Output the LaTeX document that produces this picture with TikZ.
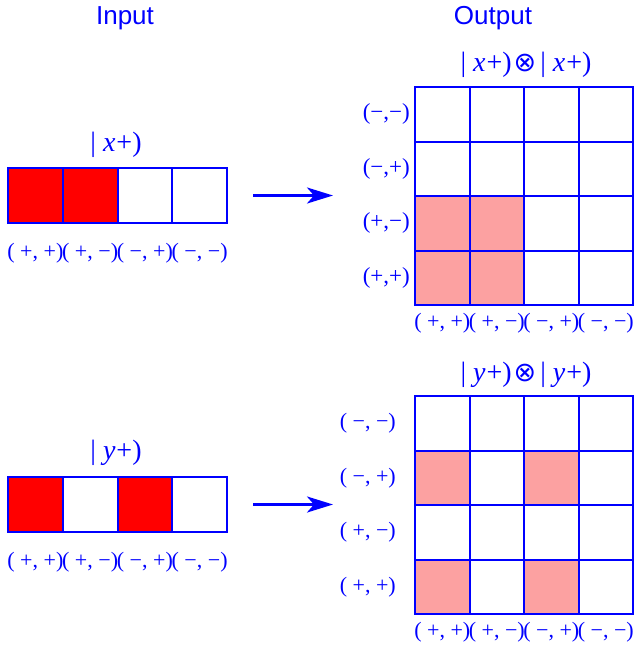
\documentclass[tikz,border=0pt]{standalone}
\usepackage{fontspec}
\setmainfont{Liberation Serif}
\newfontfamily\headfont{Liberation Sans}
\newfontfamily\symfont{DejaVu Sans}
\usetikzlibrary{positioning, arrows.meta}
\definecolor{cellred}{RGB}{255,0,0}
\definecolor{cellpink}{RGB}{252,161,161}
\newcommand{\tens}{\kern2pt{\symfont\fontsize{27}{30}\selectfont ⊗}\kern4pt}

\begin{document}
\begin{tikzpicture}[
    x=1pt, y=-1pt,
    cell/.style={draw=blue, line width=2pt, minimum size=54.5pt, inner sep=0pt, fill=white},
    bar/.style={cell, minimum width=54.75pt, minimum height=55pt},
    head/.style={font=\headfont\fontsize{26}{30}\selectfont, text=blue},
    ket/.style={font=\fontsize{28}{32}\selectfont, text=blue, inner sep=0pt},
    tag/.style={font=\fontsize{22}{26}\selectfont, text=blue, inner sep=0pt},
    arrow/.style={-{Stealth[length=26pt, width=16pt, inset=7pt]}, draw=blue, line width=2.8pt}
]
\useasboundingbox (0,0) rectangle (633,651);

% Headings
\node[head] (inhead) at (125,18) {Input};
\node[head] (outhead) at (493,18) {Output};

% Input |x+)
\node[ket] (xket) at (116,145) {|\ \textit{x}\kern1pt+)};
\foreach \i/\c in {1/cellred, 2/cellred, 3/white, 4/white}
  \node[bar, fill=\c] (xin-\i) at ({8+54.75*(\i-0.5)},195.5) {};
\foreach \i/\t in {1/{( +, +)}, 2/{( +, −)}, 3/{( −, +)}, 4/{( −, −)}}
  \node[tag] (xin-tag-\i) at ({8+54.75*(\i-0.5)},253) {\t};

% Output |x+) (x) |x+)
\node[ket] (xxket) at (526,65) {|\ \textit{x}\kern1pt+)\tens|\ \textit{x}\kern1pt+)};
\foreach \r in {1,...,4}
  \foreach \c in {1,...,4} {
    \pgfmathtruncatemacro\hit{and(\r>2,\c<3)}
    \ifnum\hit=1 \def\col{cellpink}\else\def\col{white}\fi
    \node[cell, fill=\col] (xout-\r-\c) at ({415+54.5*(\c-0.5)},{87+54.5*(\r-0.5)}) {};
  }
\foreach \r/\t in {1/{(−,−)}, 2/{(−,+)}, 3/{(+,−)}, 4/{(+,+)}}
  \node[tag, font=\fontsize{23}{27}\selectfont, anchor=east] (xrow-\r) at (410,{87+54.5*(\r-0.5)}) {\t};
\foreach \c/\t in {1/{( +, +)}, 2/{( +, −)}, 3/{( −, +)}, 4/{( −, −)}}
  \node[tag] (xcol-\c) at ({415+54.5*(\c-0.5)},323) {\t};

\coordinate (xa-start) at (253,195.5);
\coordinate (xa-end) at (333,195.5);
\draw[arrow] (xa-start) -- (xa-end);

% Input |y+)
\node[ket] (yket) at (116,453) {|\ \textit{y}\kern1pt+)};
\foreach \i/\c in {1/cellred, 2/white, 3/cellred, 4/white}
  \node[bar, fill=\c] (yin-\i) at ({8+54.75*(\i-0.5)},504.5) {};
\foreach \i/\t in {1/{( +, +)}, 2/{( +, −)}, 3/{( −, +)}, 4/{( −, −)}}
  \node[tag] (yin-tag-\i) at ({8+54.75*(\i-0.5)},562) {\t};

% Output |y+) (x) |y+)
\node[ket] (yyket) at (526,375) {|\ \textit{y}\kern1pt+)\tens|\ \textit{y}\kern1pt+)};
\foreach \r in {1,...,4}
  \foreach \c in {1,...,4} {
    \pgfmathtruncatemacro\hit{and(mod(\r,2)==0,mod(\c,2)==1)}
    \ifnum\hit=1 \def\col{cellpink}\else\def\col{white}\fi
    \node[cell, fill=\col] (yout-\r-\c) at ({415+54.5*(\c-0.5)},{396+54.5*(\r-0.5)}) {};
  }
\foreach \r/\t in {1/{( −, −)}, 2/{( −, +)}, 3/{( +, −)}, 4/{( +, +)}}
  \node[tag, anchor=east] (yrow-\r) at (396,{396+54.5*(\r-0.5)}) {\t};
\foreach \c/\t in {1/{( +, +)}, 2/{( +, −)}, 3/{( −, +)}, 4/{( −, −)}}
  \node[tag] (ycol-\c) at ({415+54.5*(\c-0.5)},632) {\t};

\coordinate (ya-start) at (253,504.5);
\coordinate (ya-end) at (333,504.5);
\draw[arrow] (ya-start) -- (ya-end);

\end{tikzpicture}
\end{document}
